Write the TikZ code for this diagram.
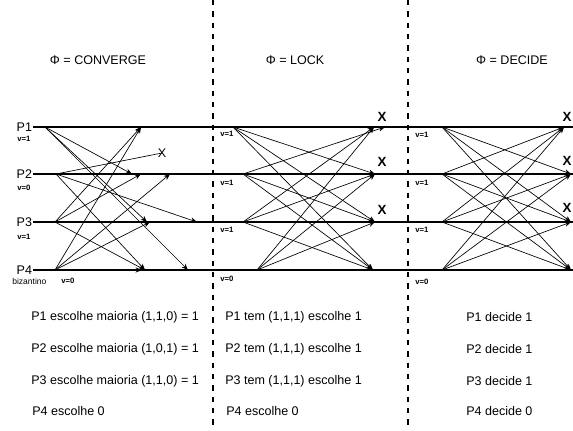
\documentclass[tikz,border=0pt]{standalone}
\usepackage{fontspec}
\setmainfont{Liberation Sans}
\usetikzlibrary{arrows.meta}
\begin{document}
\begin{tikzpicture}[x=0.75pt,y=-0.75pt,
  hline/.style={line width=0.9pt},
  msg/.style={line width=0.5pt,-{Stealth[length=4.8pt,width=3.8pt]}},
  selfmsg/.style={line width=0.9pt,-{Stealth[length=4.8pt,width=3.8pt]}},
  lost/.style={line width=0.5pt},
  phase/.style={line width=0.9pt,dash pattern=on 4pt off 4.5pt},
  big/.style={font=\fontsize{9.4}{11}\selectfont,inner sep=0pt},
  txt/.style={big,anchor=west},
  plabel/.style={big,anchor=east,inner sep=0.5pt},
  small/.style={font=\fontsize{5.8}{7}\selectfont\bfseries,inner sep=0pt,anchor=west},
  xbold/.style={font=\fontsize{10}{12}\selectfont\bfseries,inner sep=0pt},
  xthin/.style={font=\fontsize{9.4}{11}\selectfont,inner sep=0pt},
]
\useasboundingbox (0,0) rectangle (573,430);

% phase separators
\coordinate (d1t) at (213,0);  \coordinate (d1b) at (213,430);
\coordinate (d2t) at (408,0);  \coordinate (d2b) at (408,430);
\draw[phase] (d1t) -- (d1b);
\draw[phase] (d2t) -- (d2b);

% titles
\node[big] (tc) at (98,60) {Φ = CONVERGE};
\node[big] (tl) at (295,60) {Φ = LOCK};
\node[big] (td) at (512,60) {Φ = DECIDE};

% process lines
\coordinate (l1) at (33,127); \coordinate (r1) at (573,127);
\coordinate (l2) at (33,174); \coordinate (r2) at (573,174);
\coordinate (l3) at (33,222); \coordinate (r3) at (573,222);
\coordinate (l4) at (33,270); \coordinate (r4) at (573,270);
\node[plabel] (P1) at (l1) {P1};
\node[plabel] (P2) at (l2) {P2};
\node[plabel] (P3) at (l3) {P3};
\node[plabel] (P4) at (l4) {P4};
\draw[hline] (l1) -- (r1);
\draw[hline] (l2) -- (r2);
\draw[hline] (l3) -- (r3);
\draw[hline] (l4) -- (r4);

% value labels
\node[small] (v1a) at (17,139) {v=1};
\node[small] (v2a) at (17,188) {v=0};
\node[small] (v3a) at (17,237) {v=1};
\node[small,font=\fontsize{6.4}{7}\selectfont] (biz) at (12,281) {bizantino};
\node[small] (v4a) at (61,281) {v=0};
\node[small] (v1b) at (220,134) {v=1};
\node[small] (v2b) at (220,183) {v=1};
\node[small] (v3b) at (220,230) {v=1};
\node[small] (v4b) at (220,279) {v=0};
\node[small] (v1c) at (415,135) {v=1};
\node[small] (v2c) at (415,183) {v=1};
\node[small] (v3c) at (415,230) {v=1};
\node[small] (v4c) at (415,282) {v=0};

% ---------- CONVERGE ----------
\coordinate (a1) at (45,127);
\coordinate (a2) at (56,174);
\coordinate (a3) at (55,222);
\coordinate (a4) at (55,270);
\coordinate (ta1) at (141,127);
\coordinate (ta2p) at (132,174);
\coordinate (ta2q) at (141,174);
\coordinate (ta2r) at (170,174);
\coordinate (ta3p) at (147,222);
\coordinate (ta3q) at (150,222);
\coordinate (ta3r) at (197,222);
\coordinate (ta4s) at (142,270);
\coordinate (ta4p) at (145,270);
\coordinate (ta4r) at (188,270);
\node[xthin] (xa) at (162,153) {X};
\draw[msg] (a1) -- (ta2p);
\draw[msg] (a1) -- (ta3p);
\draw[msg] (a1) -- (ta4r);
\draw[lost] (a2) -- (xa.center);
\draw[msg] (a2) -- (ta3r);
\draw[msg] (a2) -- (ta4p);
\draw[msg] (a3) -- (ta1);
\draw[msg] (a3) -- (ta2q);
\draw[msg] (a3) -- (ta4p);
\draw[msg] (a4) -- (ta1);
\draw[msg] (a4) -- (ta2r);
\draw[msg] (a4) -- (ta3q);
\draw[selfmsg] (a4) -- (ta4s);

% ---------- LOCK ----------
\coordinate (b1) at (233,127);
\coordinate (b2) at (243,174);
\coordinate (b3) at (243,222);
\coordinate (b4) at (257,270);
\coordinate (tb1p) at (374,127);
\coordinate (tb1q) at (385,127);
\coordinate (tb2) at (375,174);
\coordinate (tb3) at (375,222);
\coordinate (tb4) at (373,270);
\draw[msg] (b1) -- (tb2);
\draw[msg] (b1) -- (tb3);
\draw[msg] (b1) -- (tb4);
\draw[msg] (b2) -- (tb1q);
\draw[msg] (b2) -- (tb3);
\draw[msg] (b2) -- (tb4);
\draw[msg] (b3) -- (tb1p);
\draw[msg] (b3) -- (tb2);
\draw[msg] (b3) -- (tb4);
\draw[msg] (b4) -- (tb1p);
\draw[msg] (b4) -- (tb2);
\draw[msg] (b4) -- (tb3);
\node[xbold] (xb1) at (382,117) {X};
\node[xbold] (xb2) at (382,162) {X};
\node[xbold] (xb3) at (382,210) {X};

% ---------- DECIDE ----------
\coordinate (c1) at (442,127);
\coordinate (c2) at (442,174);
\coordinate (c3) at (442,222);
\coordinate (c4) at (442,270);
\coordinate (tc1) at (564,127);
\coordinate (tc2) at (571,174);
\coordinate (tc3) at (571,222);
\coordinate (tc4) at (571,270);
\draw[msg] (c1) -- (tc2);
\draw[msg] (c1) -- (tc3);
\draw[msg] (c1) -- (tc4);
\draw[msg] (c2) -- (tc1);
\draw[msg] (c2) -- (tc3);
\draw[msg] (c2) -- (tc4);
\draw[msg] (c3) -- (tc1);
\draw[msg] (c3) -- (tc2);
\draw[msg] (c3) -- (tc4);
\draw[msg] (c4) -- (tc1);
\draw[msg] (c4) -- (tc2);
\draw[msg] (c4) -- (tc3);
\node[xbold] (xc1) at (567,117) {X};
\node[xbold] (xc2) at (567,161) {X};
\node[xbold] (xc3) at (567,208) {X};

% ---------- bottom texts ----------
\node[txt] (s11) at (31,317) {P1 escolhe maioria (1,1,0) = 1};
\node[txt] (s12) at (31,349) {P2 escolhe maioria (1,0,1) = 1};
\node[txt] (s13) at (31,381) {P3 escolhe maioria (1,1,0) = 1};
\node[txt] (s14) at (32,411) {P4 escolhe 0};
\node[txt] (s21) at (225,317) {P1 tem (1,1,1) escolhe 1};
\node[txt] (s22) at (225,349) {P2 tem (1,1,1) escolhe 1};
\node[txt] (s23) at (225,381) {P3 tem (1,1,1) escolhe 1};
\node[txt] (s24) at (226,411) {P4 escolhe 0};
\node[txt] (s31) at (466,317) {P1 decide 1};
\node[txt] (s32) at (466,349) {P2 decide 1};
\node[txt] (s33) at (466,381) {P3 decide 1};
\node[txt] (s34) at (466,411) {P4 decide 0};
\end{tikzpicture}
\end{document}
